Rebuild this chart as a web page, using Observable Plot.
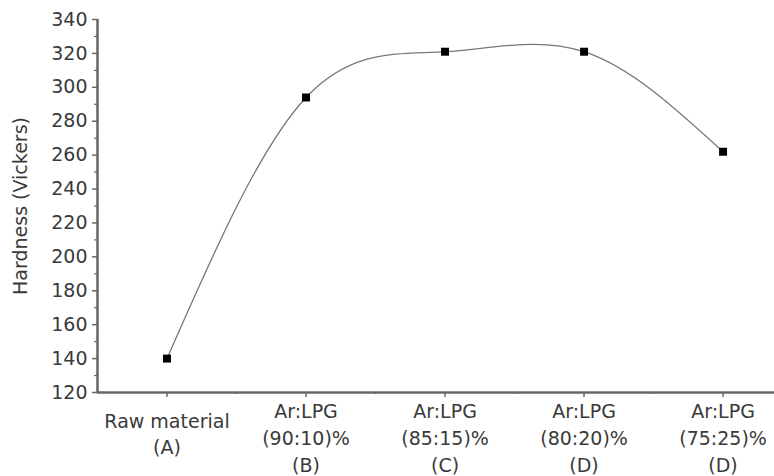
<!DOCTYPE html>
<html>
<head>
<meta charset="utf-8">
<script src="https://cdn.jsdelivr.net/npm/d3@7"></script>
<script src="https://cdn.jsdelivr.net/npm/@observablehq/plot@0.6"></script>
<style>
  html, body { margin: 0; padding: 0; background: #fff; }
</style>
</head>
<body>
<div id="chart"></div>
<script>
const categories = ["Raw material\n(A)", "Ar:LPG\n(90:10)%\n(B)", "Ar:LPG\n(85:15)%\n(C)", "Ar:LPG\n(80:20)%\n(D)", "Ar:LPG\n(75:25)%\n(D)"];
const hardness = [140, 294, 321, 321, 262];
const yTicks = [120, 140, 160, 180, 200, 220, 240, 260, 280, 300, 320, 340];
const yMinorTicks = [130, 150, 170, 190, 210, 230, 250, 270, 290, 310, 330];
const xMinorTicks = [0.5, 1.5, 2.5, 3.5];
const yLabel = "Hardness (Vickers)";

const data = categories.map((c, i) => ({i, label: c, v: hardness[i]}));
const axisColor = "#666";
const textColor = "#3a3a3a";
const fs = 19;

const chart = Plot.plot({
  width: 774,
  height: 476,
  marginLeft: 97,
  marginRight: 0,
  marginTop: 19,
  marginBottom: 84,
  style: {fontFamily: "'DejaVu Sans', sans-serif", fontSize: fs + "px", color: textColor, background: "#fff"},
  x: {domain: [-0.5, 4.37], axis: null},
  y: {domain: [120, 340], axis: null},
  marks: [
    Plot.axisY({ticks: yTicks, tickSize: 5, tickPadding: 5, stroke: axisColor, strokeWidth: 1.5, label: null, fill: textColor, fontSize: fs}),
    Plot.axisY({ticks: yMinorTicks, tickSize: 3, tickFormat: () => "", stroke: axisColor, strokeWidth: 1.2, label: null}),
    Plot.axisX({ticks: [0, 1, 2, 3, 4], tickSize: 5, tickFormat: () => "", stroke: axisColor, strokeWidth: 1.5, label: null}),
    Plot.axisX({ticks: xMinorTicks, tickSize: 2, tickFormat: () => "", stroke: axisColor, strokeWidth: 1.5, label: null}),
    Plot.ruleX([-0.5], {stroke: axisColor, strokeWidth: 2.5}),
    Plot.ruleY([120], {stroke: axisColor, strokeWidth: 2.5}),
    Plot.line(data, {x: "i", y: "v", curve: "natural", stroke: "#777", strokeWidth: 1.3}),
    Plot.dot(data, {x: "i", y: "v", symbol: "square", r: 4.5, fill: "#000", stroke: null}),
    Plot.text(data.filter(d => d.i === 0), {x: "i", text: "label", frameAnchor: "bottom", lineAnchor: "top", dy: 17, lineHeight: 1.38, fill: textColor, fontSize: fs}),
    Plot.text(data.filter(d => d.i > 0), {x: "i", text: "label", frameAnchor: "bottom", lineAnchor: "top", dy: 7, lineHeight: 1.4, fill: textColor, fontSize: fs}),
    Plot.text([yLabel], {text: d => d, frameAnchor: "left", textAnchor: "middle", dx: -77, rotate: -90, fill: textColor, fontSize: fs})
  ]
});
document.getElementById("chart").appendChild(chart);
</script>
</body>
</html>
